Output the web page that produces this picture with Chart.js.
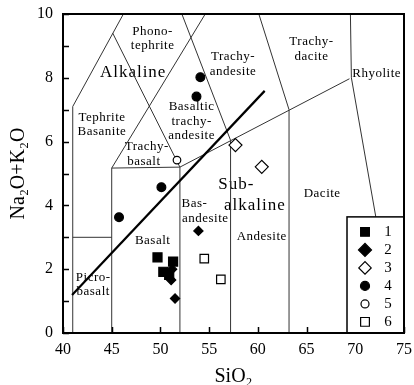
<!DOCTYPE html>
<html>
<head>
<meta charset="utf-8">
<script src="https://cdn.jsdelivr.net/npm/chart.js@4.4.0/dist/chart.umd.min.js"></script>
<style>
  html, body { margin: 0; padding: 0; background: #fff; }
  #wrap { width: 414px; height: 385px; }
</style>
</head>
<body>
<div id="wrap"><canvas id="tasChart" width="414" height="385"></canvas></div>
<script>
// Sample groups: [SiO2, Na2O+K2O]
const group1 = [[49.7, 2.37], [51.3, 2.24], [50.3, 1.92], [50.9, 1.82]];
const group2 = [[51.2, 2.0], [51.1, 1.66], [51.5, 1.08], [53.9, 3.2]];
const group3 = [[57.7, 5.89], [60.4, 5.21]];
const group4 = [[54.1, 8.02], [53.7, 7.41], [50.1, 4.57], [45.75, 3.63]];
const group5 = [[51.7, 5.42]];
const group6 = [[54.5, 2.33], [56.2, 1.68]];
const groupNames = ['1', '2', '3', '4', '5', '6'];

// Axis tick labels
const xTicks = [40, 45, 50, 55, 60, 65, 70, 75];
const yTicks = [0, 2, 4, 6, 8, 10];

// TAS field boundaries (SiO2, alkalis)
const boundaries = [
    [[41, 0], [41, 7.1], [46.2, 10]],
    [[41, 3], [45, 3]],
    [[45, 0], [45, 5.17]],
    [[45, 5.17], [52, 5.2]],
    [[52, 0], [52, 5.2]],
    [[45, 5.17], [54.6, 10]],
    [[45.1, 9.4], [52, 5.2]],
    [[57.2, 0], [57.2, 6.04]],
    [[52.2, 10], [57.2, 6.04]],
    [[52, 5.2], [69.4, 7.97]],
    [[63.2, 0], [63.2, 7.0]],
    [[60.1, 10], [63.2, 7.0]],
    [[69.5, 10], [69.6, 8.0], [74.2, 0]]
];
// Alkaline / sub-alkaline divide
const alkaliLine = [[40.93, 1.19], [60.7, 7.59]];

// Field names
const fieldLabels = [
    ['Phono-', 49.2, 9.44], ['tephrite', 49.2, 9.02],
    ['Tephrite', 44.0, 6.74], ['Basanite', 44.0, 6.3],
    ['Trachy-', 48.6, 5.83], ['basalt', 48.3, 5.36],
    ['Basaltic', 53.2, 7.09], ['trachy-', 53.2, 6.63], ['andesite', 53.2, 6.18],
    ['Trachy-', 57.45, 8.65], ['andesite', 57.45, 8.21],
    ['Trachy-', 65.5, 9.13], ['dacite', 65.5, 8.68],
    ['Rhyolite', 72.2, 8.12],
    ['Dacite', 66.6, 4.36],
    ['Andesite', 60.4, 3.02],
    ['Bas-', 53.5, 4.07], ['andesite', 54.6, 3.6],
    ['Basalt', 49.2, 2.89],
    ['Picro-', 43.1, 1.73], ['basalt', 43.1, 1.29]
];
const seriesLabels = [
    ['Alkaline', 47.2, 8.18],
    ['Sub-', 57.8, 4.64], ['alkaline', 59.7, 4.01]
];

const serif = "'Liberation Serif', 'Times New Roman', serif";
const toXY = arr => arr.map(p => ({ x: p[0], y: p[1] }));

const pointSets = [
    { data: group1, pointStyle: 'rect', radius: 6.4, legendRadius: 6.2, fill: '#000' },
    { data: group2, pointStyle: 'rectRot', radius: 4.6, legendRadius: 6.5, fill: '#000' },
    { data: group3, pointStyle: 'rectRot', radius: 6.5, legendRadius: 6.2, fill: '#fff' },
    { data: group4, pointStyle: 'circle', radius: 4.4, legendRadius: 4.5, fill: '#000' },
    { data: group5, pointStyle: 'circle', radius: 3.8, legendRadius: 4.0, fill: '#fff' },
    { data: group6, pointStyle: 'rect', radius: 6.0, legendRadius: 6.2, fill: '#fff' }
];

const datasets = pointSets.map((s, i) => ({
    label: groupNames[i],
    data: toXY(s.data),
    pointStyle: s.pointStyle,
    pointRadius: s.radius,
    pointBackgroundColor: s.fill,
    pointBorderColor: '#000',
    pointBorderWidth: 1.2,
    showLine: false,
    order: 0
}));

boundaries.forEach(b => datasets.push({
    label: '',
    data: toXY(b),
    showLine: true,
    borderColor: '#333',
    borderWidth: 1,
    pointRadius: 0,
    order: 2
}));

datasets.push({
    label: '',
    data: toXY(alkaliLine),
    showLine: true,
    borderColor: '#000',
    borderWidth: 2.2,
    pointRadius: 0,
    order: 1
});

function drawMarker(ctx, style, x, y, r, fill) {
    ctx.save();
    ctx.fillStyle = fill;
    ctx.strokeStyle = '#000';
    ctx.lineWidth = 1.2;
    ctx.beginPath();
    if (style === 'rect') {
        const s = Math.SQRT1_2 * r;
        ctx.rect(x - s, y - s, 2 * s, 2 * s);
    } else if (style === 'rectRot') {
        ctx.moveTo(x - r, y);
        ctx.lineTo(x, y - r);
        ctx.lineTo(x + r, y);
        ctx.lineTo(x, y + r);
        ctx.closePath();
    } else {
        ctx.arc(x, y, r, 0, Math.PI * 2);
    }
    ctx.fill();
    ctx.stroke();
    ctx.restore();
}

// Field names, legend box, inward ticks and frame
const tasDecor = {
    id: 'tasDecor',
    beforeDatasetsDraw(chart) {
        const { ctx, scales: { x, y } } = chart;
        ctx.save();
        ctx.fillStyle = '#000';
        ctx.textAlign = 'center';
        ctx.textBaseline = 'middle';
        ctx.font = '13px ' + serif;
        ctx.letterSpacing = '0.5px';
        fieldLabels.forEach(l => ctx.fillText(l[0], x.getPixelForValue(l[1]), y.getPixelForValue(l[2])));
        ctx.font = '17px ' + serif;
        ctx.letterSpacing = '1px';
        seriesLabels.forEach(l => ctx.fillText(l[0], x.getPixelForValue(l[1]), y.getPixelForValue(l[2])));
        ctx.restore();
    },
    afterDraw(chart) {
        const { ctx, chartArea: a, scales: { x, y } } = chart;
        ctx.save();
        // inward ticks
        ctx.strokeStyle = '#000';
        ctx.lineWidth = 1.5;
        ctx.beginPath();
        for (let v = 0; v <= 10; v++) {
            const py = Math.round(y.getPixelForValue(v)) + 0.5;
            ctx.moveTo(a.left, py);
            ctx.lineTo(a.left + 6, py);
        }
        xTicks.forEach(v => {
            const px = Math.round(x.getPixelForValue(v)) + 0.5;
            ctx.moveTo(px, a.bottom);
            ctx.lineTo(px, a.bottom - 6);
        });
        ctx.stroke();

        // legend box
        const lx0 = x.getPixelForValue(69.15), lx1 = a.right;
        const ly0 = y.getPixelForValue(3.64), ly1 = a.bottom;
        ctx.fillStyle = '#fff';
        ctx.fillRect(lx0, ly0, lx1 - lx0, ly1 - ly0);
        ctx.lineWidth = 1.5;
        ctx.strokeRect(lx0, ly0, lx1 - lx0, ly1 - ly0);
        ctx.font = '15px ' + serif;
        ctx.fillStyle = '#000';
        ctx.textAlign = 'center';
        ctx.textBaseline = 'middle';
        pointSets.forEach((s, i) => {
            const cy = ly0 + 15 + 18 * i;
            drawMarker(ctx, s.pointStyle, lx0 + 18, cy, s.legendRadius, s.fill);
            ctx.fillText(groupNames[i], lx0 + 41, cy);
        });

        // frame
        ctx.lineWidth = 2;
        ctx.strokeStyle = '#000';
        ctx.strokeRect(a.left, a.top, a.right - a.left, a.bottom - a.top);
        ctx.restore();
    }
};

new Chart(document.getElementById('tasChart').getContext('2d'), {
    type: 'scatter',
    data: { datasets: datasets },
    options: {
        responsive: false,
        animation: false,
        layout: { padding: { top: 14, right: 10, left: 0, bottom: 0 } },
        plugins: {
            legend: { display: false },
            tooltip: { enabled: false }
        },
        scales: {
            x: {
                min: 40, max: 75,
                afterFit: s => { s.height = 52; s.paddingLeft = 0; s.paddingRight = 0; },
                afterBuildTicks: s => { s.ticks = xTicks.map(v => ({ value: v })); },
                grid: { display: false, drawTicks: false },
                border: { display: false },
                ticks: { color: '#000', padding: 7, font: { family: serif, size: 16 } },
                title: { display: true, text: 'SiO₂', color: '#000', padding: { top: 0, bottom: -2 }, font: { family: serif, size: 20, lineHeight: 1 } }
            },
            y: {
                min: 0, max: 10,
                afterFit: s => { s.width = 63; s.paddingTop = 0; s.paddingBottom = 0; },
                afterBuildTicks: s => { s.ticks = yTicks.map(v => ({ value: v })); },
                grid: { display: false, drawTicks: false },
                border: { display: false },
                ticks: { color: '#000', padding: 10, font: { family: serif, size: 16 } },
                title: { display: true, text: 'Na₂O+K₂O', color: '#000', padding: { top: 9, bottom: 0 }, font: { family: serif, size: 20, lineHeight: 1 } }
            }
        }
    },
    plugins: [tasDecor]
});
</script>
</body>
</html>
